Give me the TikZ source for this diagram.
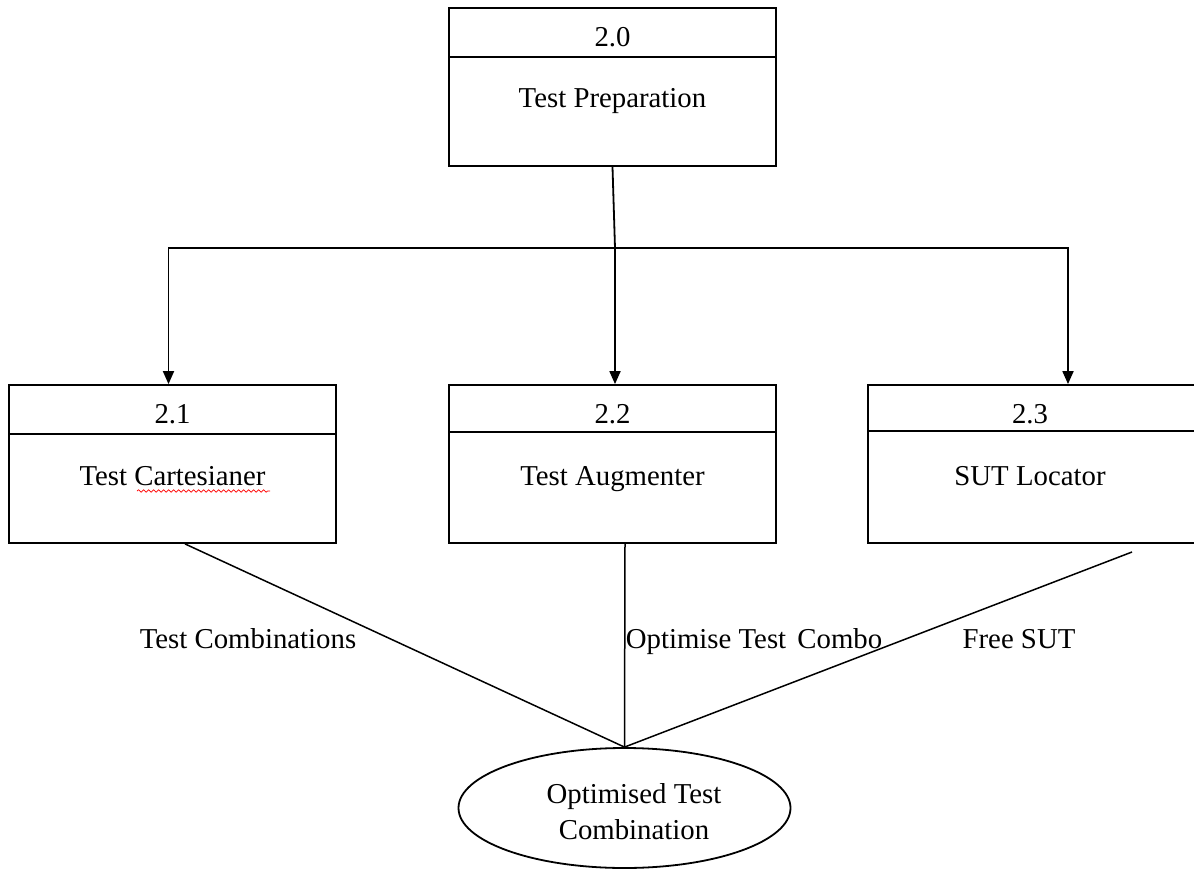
\documentclass[tikz,border=0pt]{standalone}
\usepackage{fontspec}
\setmainfont{Liberation Serif}
\usetikzlibrary{arrows.meta,decorations.pathmorphing,shapes.geometric}
\begin{document}
\begin{tikzpicture}[x=1pt,y=-1pt,
  line width=1.8pt,
  procbox/.style={draw, rectangle, minimum width=327pt, minimum height=158pt, inner sep=0pt},
  lbl/.style={inner sep=0pt, anchor=base, font=\fontsize{28.8}{35}\selectfont},
  arr/.style={-{Triangle[length=13pt,width=11pt]}},
  flow/.style={line width=1.5pt}
]
\clip (0,0) rectangle (1194,869);

% process boxes
\node[procbox] (p20) at (612.5,87) {};
\node[procbox] (p21) at (172.5,464) {};
\node[procbox] (p22) at (612.5,464) {};
\node[procbox, minimum width=328pt] (p23) at (1032,464) {};

% header dividers
\draw ([yshift=-50pt]p20.north west) -- ([yshift=-50pt]p20.north east);
\draw ([yshift=-50pt]p21.north west) -- ([yshift=-50pt]p21.north east);
\draw ([yshift=-48pt]p22.north west) -- ([yshift=-48pt]p22.north east);
\draw ([yshift=-47pt]p23.north west) -- ([yshift=-47pt]p23.north east);

% box texts (placed on their baselines)
\node[lbl] (n20) at (612.5,47) {2.0};
\node[lbl] (t20) at (612.5,108) {Test Preparation};
\node[lbl] (n21) at (172.5,423) {2.1};
\node[lbl] (t21) at (172.5,485) {Test Cartesianer};
\node[lbl] (n22) at (612.5,423) {2.2};
\node[lbl] (t22) at (612.5,485) {Test Augmenter};
\node[lbl] (n23) at (1030,423) {2.3};
\node[lbl] (t23) at (1030,485) {SUT Locator};

% spelling mark under the second word
\draw[red, line width=0.7pt, decoration={snake, amplitude=1.2pt, segment length=5pt}, decorate]
  (137,491) -- (270,491);

% outcome ellipse
\node[draw, ellipse, minimum width=332pt, minimum height=120pt, inner sep=0pt] (oc) at (624.5,808) {};
\node[lbl] (toc1) at (634,803) {Optimised Test};
\node[lbl] (toc2) at (634,839) {Combination};

% decomposition arrows
\coordinate (hub) at (615,248);
\draw (p20.south) -- (hub);
\draw[arr] (hub) -| ([xshift=-4pt]p21.north);
\draw[arr] (hub) -- (hub |- p22.north);
\draw[arr] (hub) -| ([xshift=36pt]p23.north);

% flows into the outcome
\coordinate (fs) at (1132,552);
\draw[flow] ([xshift=12.5pt]p21.south) -- (oc.north);
\draw[flow] ([xshift=12.5pt]p22.south) -- (oc.north);
\draw[flow] (fs) -- (oc.north);

% flow labels
\node[lbl] (l1) at (248,648) {Test Combinations};
\node[lbl] (l2) at (754,648) {Optimise Test\hspace{4pt} Combo};
\node[lbl] (l3) at (1019,648) {Free SUT};
\end{tikzpicture}
\end{document}
